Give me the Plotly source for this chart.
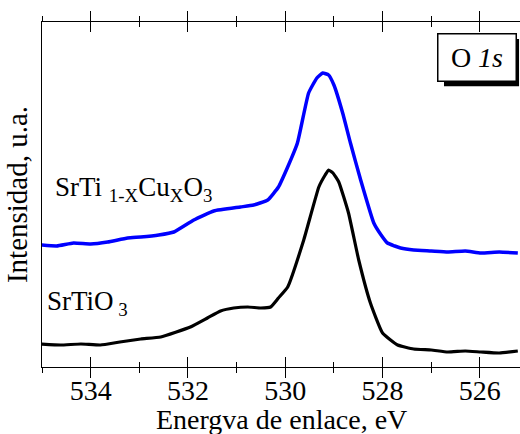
import plotly.graph_objects as go

# Binding energy (eV) and intensity (arbitrary units)
energy_cu = [535.03, 534.70, 534.35, 534.00, 533.65, 533.24, 532.97, 532.60, 532.29, 531.88,
             531.47, 530.92, 530.65, 530.36, 530.14, 529.95, 529.75, 529.52, 529.35, 529.23,
             529.11, 529.00, 528.82, 528.66, 528.45, 528.18, 528.03, 527.90, 527.75, 527.63,
             527.36, 527.00, 526.66, 526.30, 525.98, 525.60, 525.22]
inten_cu = [122, 121, 124, 123, 125, 129, 130, 132, 135, 147,
            156, 160, 162, 167, 180, 200, 224, 274, 289, 294,
            292, 282, 254, 224, 187, 144, 132, 124, 121, 119,
            117, 116, 115, 116, 114, 115, 114]

energy_sto = [535.03, 534.62, 534.20, 533.80, 533.40, 532.97, 532.56, 531.95, 531.60, 531.33,
              531.06, 530.77, 530.50, 530.30, 530.14, 529.95, 529.62, 529.31, 529.18, 529.11,
              529.02, 528.90, 528.70, 528.49, 528.25, 528.00, 527.69, 527.36, 527.00, 526.66,
              526.30, 525.98, 525.60, 525.22]
inten_sto = [23, 22, 23, 22, 25, 28, 30, 40, 49, 56,
             59, 60, 59, 60, 69, 80, 127, 180, 192, 197,
             194, 185, 154, 107, 64, 34, 22, 18, 17, 15,
             16, 15, 14, 16]

x_ticks = [534, 532, 530, 528, 526]

FONT = "Liberation Serif, Times New Roman, Times, serif"

fig = go.Figure()
fig.add_trace(go.Scatter(x=energy_cu, y=inten_cu, mode="lines",
                         line=dict(color="#0000ff", width=3.5, shape="spline", smoothing=0.4),
                         showlegend=False))
fig.add_trace(go.Scatter(x=energy_sto, y=inten_sto, mode="lines",
                         line=dict(color="black", width=3.2, shape="spline", smoothing=0.4),
                         showlegend=False))
# invisible trace on the overlay axis (outside ticks)
fig.add_trace(go.Scatter(x=[energy_sto[0]], y=[inten_sto[0]], xaxis="x2", mode="markers",
                         marker=dict(opacity=0), showlegend=False, hoverinfo="skip"))

axis_common = dict(range=[535, 525.175], tickvals=x_ticks, showline=True, linecolor="black",
                   linewidth=1.3, mirror="allticks", tickcolor="black", tickwidth=1.3,
                   ticklen=10, showgrid=False, zeroline=False, automargin=False,
                   minor=dict(dtick=1, tick0=525, ticklen=5, tickcolor="black", tickwidth=1.3))

fig.update_layout(
    width=520, height=434,
    margin=dict(l=42, r=0, t=22, b=67),
    paper_bgcolor="white", plot_bgcolor="white",
    font=dict(family=FONT, color="black", size=28),
    xaxis=dict(**axis_common, ticks="inside", minor_ticks="inside",
               tickfont=dict(family=FONT, size=28, color="black"), ticklabelstandoff=-2),
    xaxis2=dict(**axis_common, ticks="outside", minor_ticks="outside", overlaying="x",
                matches="x", showticklabels=False),
    yaxis=dict(range=[0, 345], showline=True, linecolor="black", linewidth=1.3,
               showticklabels=False, ticks="", showgrid=False, zeroline=False, automargin=False,
               title=dict(text="Intensidad, u.a.", font=dict(family=FONT, size=29, color="black"),
                          standoff=4)),
)

# x-axis title
fig.add_annotation(text="Energva de enlace, eV", xref="paper", yref="paper",
                   x=0.5, y=-0.151, xanchor="center", yanchor="middle", showarrow=False,
                   borderpad=0, font=dict(family=FONT, size=28, color="black"))
fig.add_annotation(text="SrTi <sub>1-X</sub>Cu<sub>X</sub>O<sub>3</sub>", xref="paper", yref="paper",
                   x=0.022, y=0.515, xanchor="left", yanchor="middle", showarrow=False,
                   font=dict(family=FONT, size=27))
fig.add_annotation(text="SrTiO<sub> 3</sub>", xref="paper", yref="paper",
                   x=0.006, y=0.185, xanchor="left", yanchor="middle", showarrow=False,
                   font=dict(family=FONT, size=27))
# drop shadow of the label box
fig.add_shape(type="rect", xref="paper", yref="paper", x0=0.841, x1=0.998, y0=0.814, y1=0.951,
              fillcolor="black", line=dict(width=0), layer="above")
fig.add_annotation(text="O <i>1s</i>", xref="paper", yref="paper",
                   x=0.911, y=0.897, xanchor="center", yanchor="middle", showarrow=False,
                   width=75, height=44, bgcolor="white", bordercolor="black", borderwidth=1.5,
                   borderpad=1, font=dict(family=FONT, size=28, color="black"))

fig.write_html("out.html")
